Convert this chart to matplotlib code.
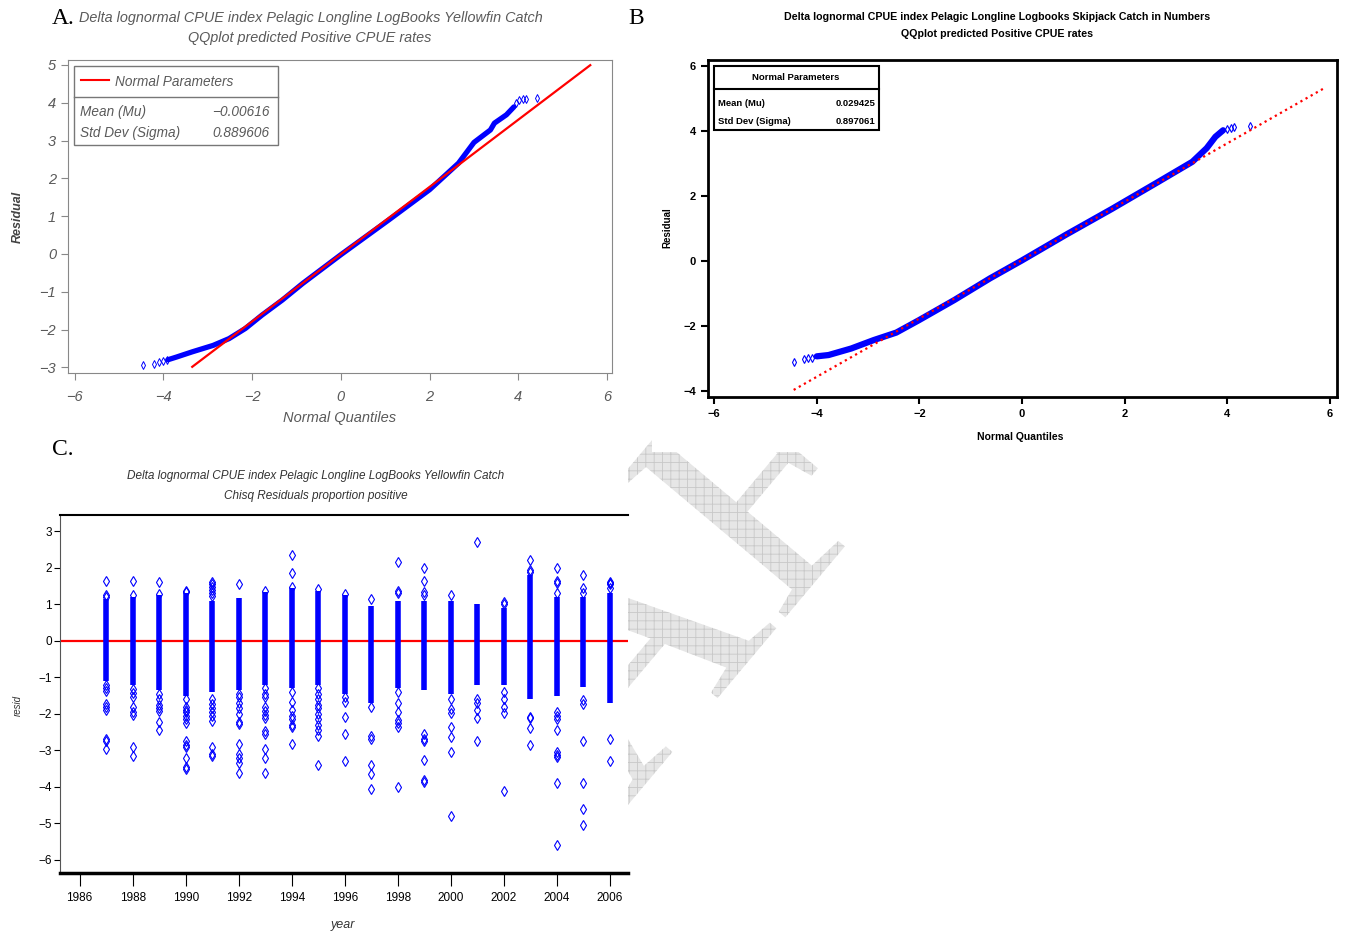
import matplotlib
matplotlib.use('Agg')
import matplotlib.pyplot as plt
from matplotlib.patches import Rectangle, PathPatch
from matplotlib.lines import Line2D
from matplotlib.textpath import TextPath
from matplotlib.font_manager import FontProperties
from matplotlib.transforms import Affine2D

W, H = 1346, 934

# panel A: QQ plot, yellowfin
qa_band_x = [-3.9, -3.71, -3.35, -2.88, -2.52, -2.15, -1.78, -1.32, -0.86, 0.0, 1.08, 2.0, 2.65, 3.0, 3.37, 3.46, 3.73, 3.9]
qa_band_y = [-2.8, -2.73, -2.59, -2.42, -2.24, -1.97, -1.62, -1.22, -0.78, -0.02, 0.90, 1.70, 2.4, 2.95, 3.28, 3.46, 3.68, 3.89]
qa_tail_x = [-4.45, -4.22, -4.1, -4.0, -3.92, 3.95, 4.02, 4.1, 4.18, 4.43]
qa_tail_y = [-2.95, -2.9, -2.86, -2.83, -2.8, 4.0, 4.08, 4.1, 4.11, 4.12]
qa_line_x = [-3.35, 5.62]
qa_mean, qa_sigma = -0.00616, 0.889606

# panel B: QQ plot, second species
qb_band_x = [-4.0, -3.77, -3.33, -2.89, -2.45, -2.01, -1.32, -0.62, 0.0, 0.87, 1.75, 2.62, 3.32, 3.6, 3.77, 3.92]
qb_band_y = [-2.93, -2.89, -2.69, -2.43, -2.2, -1.82, -1.2, -0.53, 0.02, 0.82, 1.6, 2.4, 3.05, 3.47, 3.82, 4.02]
qb_tail_x = [-4.44, -4.25, -4.18, -4.1, 4.0, 4.08, 4.13, 4.45]
qb_tail_y = [-3.10, -3.0, -2.99, -2.97, 4.05, 4.1, 4.12, 4.15]
qb_line_x = [-4.45, 5.9]
qb_mean, qb_sigma = 0.029425, 0.897061

# panel C: residuals by year (dense band low/high + single points)
years = list(range(1987, 2007))
band_lo = [-1.1, -1.2, -1.35, -1.5, -1.4, -1.35, -1.2, -1.3, -1.2, -1.45,
           -1.7, -1.3, -1.35, -1.45, -1.2, -1.2, -1.6, -1.5, -1.25, -1.7]
band_hi = [1.15, 1.2, 1.25, 1.3, 1.1, 1.18, 1.35, 1.45, 1.38, 1.25,
           0.95, 1.1, 1.1, 1.1, 1.02, 0.9, 1.8, 1.2, 1.2, 1.3]
outliers = {
    1987: [1.63, 1.27, 1.2, -1.2, -1.3, -1.36, -1.72, -1.8, -1.88, -2.7, -2.75, -2.95],
    1988: [1.64, 1.25, -1.32, -1.42, -1.55, -1.82, -1.95, -2.02, -2.9, -3.15],
    1989: [1.62, 1.28, -1.45, -1.6, -1.75, -1.85, -1.92, -2.22, -2.45],
    1990: [1.38, 1.33, -1.6, -1.8, -1.88, -1.96, -2.05, -2.15, -2.25, -2.75, -2.85, -2.92, -3.2, -3.45, -3.52],
    1991: [1.62, 1.55, 1.48, 1.4, 1.32, 1.22, -1.6, -1.72, -1.85, -1.95, -2.05, -2.2, -2.9, -3.1, -3.15],
    1992: [1.56, -1.45, -1.55, -1.7, -1.85, -2.0, -2.22, -2.27, -2.82, -3.1, -3.2, -3.35, -3.62],
    1993: [1.38, -1.3, -1.45, -1.55, -1.8, -1.92, -2.02, -2.1, -2.48, -2.55, -2.95, -3.2, -3.62],
    1994: [2.36, 1.85, 1.48, -1.4, -1.68, -1.9, -2.05, -2.15, -2.3, -2.36, -2.82],
    1995: [1.42, -1.3, -1.45, -1.6, -1.75, -1.85, -2.0, -2.15, -2.3, -2.45, -2.6, -3.4],
    1996: [1.28, -1.55, -1.68, -2.08, -2.55, -3.3],
    1997: [1.15, -1.8, -2.6, -2.7, -3.4, -3.65, -4.05],
    1998: [2.17, 1.38, 1.3, -1.4, -1.7, -1.95, -2.18, -2.25, -2.35, -4.0],
    1999: [2.0, 1.63, 1.35, 1.25, -2.55, -2.7, -2.75, -3.25, -3.8, -3.88],
    2000: [1.27, -1.58, -1.87, -1.98, -2.35, -2.62, -3.05, -4.8],
    2001: [2.72, -1.6, -1.7, -1.9, -2.1, -2.75],
    2002: [1.07, 1.0, -1.4, -1.6, -1.8, -1.98, -4.1],
    2003: [2.22, 1.95, 1.88, -2.08, -2.1, -2.38, -2.85],
    2004: [2.0, 1.65, 1.58, 1.3, -1.95, -2.05, -2.15, -2.45, -3.05, -3.12, -3.18, -3.9, -5.6],
    2005: [1.8, 1.45, 1.3, -1.62, -1.72, -2.75, -3.9, -4.6, -5.05],
    2006: [1.62, 1.58, 1.55, 1.45, -2.68, -3.3],
}

title_a = ['Delta lognormal CPUE index Pelagic Longline LogBooks Yellowfin Catch',
           'QQplot predicted Positive CPUE rates']
title_b = ['Delta lognormal CPUE index Pelagic Longline Logbooks Skipjack Catch in Numbers',
           'QQplot predicted Positive CPUE rates']
title_c = ['Delta lognormal CPUE index Pelagic Longline LogBooks Yellowfin Catch',
           'Chisq Residuals proportion positive']

GRAY = '#5a5a5a'
BLUE = '#0000ff'


def box(l, t, r, b):
    return [l / W, 1 - b / H, (r - l) / W, (b - t) / H]


def ftext(x, y, s, **kw):
    fig.text(x / W, 1 - y / H, s, **kw)


fig = plt.figure(figsize=(W / 100, H / 100), dpi=100)
plt.rcParams['font.family'] = ['Liberation Sans', 'DejaVu Sans']
plt.rcParams['hatch.linewidth'] = 0.6

# background: watermark behind the pasted panels
bg = fig.add_axes([0, 0, 1, 1], zorder=-10)
bg.set_xlim(0, W)
bg.set_ylim(H, 0)
bg.axis('off')
tp = TextPath((0, 0), 'DRAFT', size=330, prop=FontProperties(family='Liberation Serif'))
tr = Affine2D().scale(1, -1).rotate_deg(-50).translate(330, 1160)
wm = PathPatch(tr.transform_path(tp), fc='#e6e6e6', ec='#c8c8c8', lw=0, hatch='++', zorder=1)
bg.add_patch(wm)
for (l, t, r, b) in [(0, 0, 626, 432), (652, 0, W, 452), (0, 438, 628, H)]:
    bg.add_patch(Rectangle((l, t), r - l, b - t, fc='white', ec='none', zorder=2))

# ---------------- panel A ----------------
axa = fig.add_axes(box(68, 60, 612, 373))
axa.plot(qa_band_x, qa_band_y, '-', color=BLUE, lw=3.8, solid_capstyle='round')
axa.plot(qa_tail_x, qa_tail_y, 'd', ms=4, mfc='none', mec=BLUE, mew=0.7)
axa.plot(qa_line_x, [qa_mean + qa_sigma * x for x in qa_line_x], '-', color='red', lw=1.6)
axa.set_xlim(-6.15, 6.11)
axa.set_ylim(-3.15, 5.13)
axa.set_xticks(range(-6, 7, 2))
axa.set_yticks(range(-3, 6))
for s in axa.spines.values():
    s.set_color('#888888')
axa.tick_params(colors='#888888', labelcolor=GRAY, length=5, labelsize=10.5)
axa.tick_params(axis='x', pad=7)
for lab in axa.get_xticklabels() + axa.get_yticklabels():
    lab.set_fontstyle('italic')

fig.add_artist(Rectangle((74 / W, 1 - 145 / H), 204 / W, 79 / H, transform=fig.transFigure,
                         fill=False, ec='#777777', lw=1))
fig.add_artist(Line2D([74 / W, 278 / W], [1 - 97 / H] * 2, transform=fig.transFigure, color='#777777', lw=1))
fig.add_artist(Line2D([81 / W, 109 / W], [1 - 80 / H] * 2, transform=fig.transFigure, color='red', lw=1.5))
lk = dict(color=GRAY, style='italic', fontsize=9.8, va='center')
ftext(115, 82, 'Normal Parameters', **lk)
ftext(80, 112, 'Mean (Mu)', **lk)
ftext(270, 112, '\u22120.00616', ha='right', **lk)
ftext(80, 133, 'Std Dev (Sigma)', **lk)
ftext(270, 133, '0.889606', ha='right', **lk)

ftext(52, 18, 'A.', family='Liberation Serif', fontsize=17, va='center')
ftext(311, 18, title_a[0], color=GRAY, style='italic', fontsize=10.4, ha='center', va='center')
ftext(310, 38, title_a[1], color=GRAY, style='italic', fontsize=10.4, ha='center', va='center')
ftext(18, 217, 'Residual', color='#444444', style='italic', weight='bold', fontsize=9,
      rotation=90, ha='center', va='center')
ftext(340, 418, 'Normal Quantiles', color=GRAY, style='italic', fontsize=10.5, ha='center', va='center')

# ---------------- panel B ----------------
axb = fig.add_axes(box(708, 60, 1337, 397))
axb.plot(qb_band_x, qb_band_y, '-', color=BLUE, lw=4.5, solid_capstyle='round')
axb.plot(qb_tail_x, qb_tail_y, 'd', ms=4, mfc='none', mec=BLUE, mew=0.8)
axb.plot(qb_line_x, [qb_mean + qb_sigma * x for x in qb_line_x], ':', color='red', lw=1.6)
axb.set_xlim(-6.12, 6.14)
axb.set_ylim(-4.18, 6.18)
axb.set_xticks(range(-6, 7, 2))
axb.set_yticks(range(-4, 7, 2))
for s in axb.spines.values():
    s.set_linewidth(2)
axb.tick_params(width=1.5, length=5, labelsize=8)
for lab in axb.get_xticklabels() + axb.get_yticklabels():
    lab.set_fontweight('bold')

fig.add_artist(Rectangle((714 / W, 1 - 130 / H), 165 / W, 64 / H, transform=fig.transFigure,
                         fill=False, ec='black', lw=1.5))
fig.add_artist(Line2D([714 / W, 879 / W], [1 - 89 / H] * 2, transform=fig.transFigure, color='black', lw=1.5))
bk = dict(color='black', weight='bold', fontsize=6.8, va='center')
ftext(796, 78, 'Normal Parameters', ha='center', **bk)
ftext(718, 103, 'Mean (Mu)', **bk)
ftext(875, 103, '0.029425', ha='right', **bk)
ftext(718, 122, 'Std Dev (Sigma)', **bk)
ftext(875, 122, '0.897061', ha='right', **bk)

ftext(628, 18, 'B', family='Liberation Serif', fontsize=17, va='center')
ftext(997, 17, title_b[0], weight='bold', fontsize=7.7, ha='center', va='center')
ftext(997, 34, title_b[1], weight='bold', fontsize=7.7, ha='center', va='center')
ftext(667, 228, 'Residual', weight='bold', fontsize=7, rotation=90, ha='center', va='center')
ftext(1020, 437, 'Normal Quantiles', weight='bold', fontsize=7.5, ha='center', va='center')

# ---------------- panel C ----------------
axc = fig.add_axes(box(60, 515, 628, 873))
axc.axhline(0, color='red', lw=1.6, zorder=1)
axc.vlines(years, band_lo, band_hi, color=BLUE, lw=4, zorder=2)
for yr in years:
    pts = outliers[yr]
    axc.plot([yr] * len(pts), pts, 'd', ms=5, mfc='none', mec=BLUE, mew=0.8, zorder=3)
axc.set_xlim(1985.26, 2006.68)
axc.set_ylim(-6.36, 3.45)
axc.set_xticks(range(1986, 2007, 2))
axc.set_yticks(range(-6, 4))
axc.spines['right'].set_visible(False)
axc.spines['top'].set_linewidth(1.5)
axc.spines['bottom'].set_linewidth(2.5)
axc.spines['left'].set_color('#555555')
axc.tick_params(axis='x', length=9, pad=5, labelsize=8.5)
axc.tick_params(axis='y', length=4, pad=2, labelsize=8.5)

ftext(52, 449, 'C.', family='Liberation Serif', fontsize=17, va='center')
ftext(316, 476, title_c[0], color='#333333', style='italic', fontsize=8.5, ha='center', va='center')
ftext(316, 496, title_c[1], color='#333333', style='italic', fontsize=8.5, ha='center', va='center')
ftext(18, 705, 'resid', color='#333333', style='italic', fontsize=7, rotation=90, ha='center', va='center')
ftext(343, 925, 'year', color='#333333', style='italic', fontsize=9, ha='center', va='center')

fig.savefig('out.png', dpi=100)
